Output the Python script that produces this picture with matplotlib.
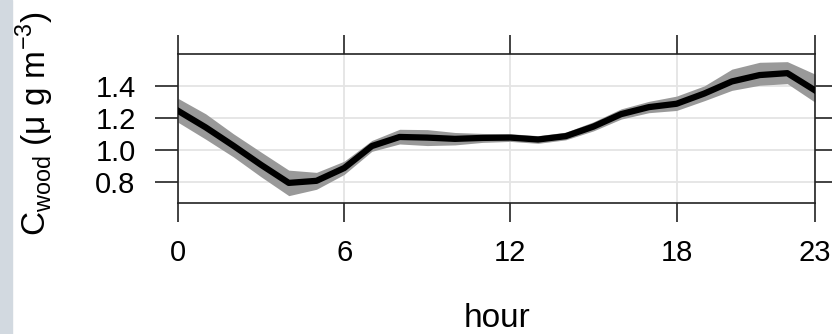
import matplotlib
matplotlib.use('Agg')
import matplotlib.pyplot as plt
from matplotlib.patches import Rectangle

plt.rcParams['font.family'] = ['Liberation Sans', 'DejaVu Sans']

# diurnal profile of wood-burning concentration (mean and interval)
hours = list(range(24))
mean = [1.244, 1.140, 1.025, 0.905, 0.792, 0.805, 0.885, 1.023, 1.080, 1.076,
        1.068, 1.074, 1.076, 1.064, 1.085, 1.145, 1.223, 1.267, 1.288, 1.352,
        1.428, 1.468, 1.480, 1.372]
lower = [1.172, 1.066, 0.955, 0.830, 0.712, 0.752, 0.845, 0.990, 1.036, 1.026,
         1.030, 1.046, 1.052, 1.040, 1.062, 1.118, 1.192, 1.232, 1.246, 1.307,
         1.372, 1.404, 1.414, 1.298]
upper = [1.322, 1.225, 1.100, 0.985, 0.872, 0.858, 0.928, 1.058, 1.128, 1.126,
         1.108, 1.102, 1.100, 1.088, 1.110, 1.175, 1.256, 1.303, 1.336, 1.400,
         1.505, 1.548, 1.552, 1.474]
xticks = [0, 6, 12, 18, 23]
yticks = [0.8, 1.0, 1.2, 1.4]

W, H = 832, 334
fig = plt.figure(figsize=(W / 100, H / 100), dpi=100)
fig.patches.append(Rectangle((0, 0), 12 / W, 1, transform=fig.transFigure,
                             color='#d2d9e0', zorder=0))

ax = fig.add_axes([178 / W, 1 - 203 / H, (815 - 178) / W, (203 - 54) / H])
ax.fill_between(hours, lower, upper, color='#999999', lw=0, zorder=2)
ax.plot(hours, mean, color='black', lw=4.5, solid_joinstyle='round', zorder=3)

ax.set_xlim(0, 23)
ax.set_ylim(0.666, 1.60)
ax.set_xticks(xticks)
ax.set_yticks(yticks)
ax.set_yticklabels(['0.8', '1.0', '1.2', '1.4'])
ax.grid(True, color='#e4e4e4', lw=1.3, zorder=0)
ax.set_axisbelow(True)

for s in ax.spines.values():
    s.set_color('#222222')
    s.set_linewidth(1.2)

ax.tick_params(axis='x', which='both', direction='out', length=14, width=1.2,
               color='#222222', top=True, labeltop=False, labelsize=21, pad=12)
ax.tick_params(axis='y', which='both', direction='out', length=16.5, width=1.2,
               color='#222222', right=True, labelright=False, labelsize=21, pad=14)

fig.text(497 / W, 1 - 327 / H, 'hour', ha='center', va='baseline', fontsize=24)
fig.text(35 / W, 1 - 124 / H,
         r'C$_{\mathregular{wood}}$ ($\mathregular{\mu}$ g m$^{\mathregular{-3}}$)',
         rotation=90, ha='center', va='center', fontsize=24)

fig.savefig('out.png', dpi=100)
